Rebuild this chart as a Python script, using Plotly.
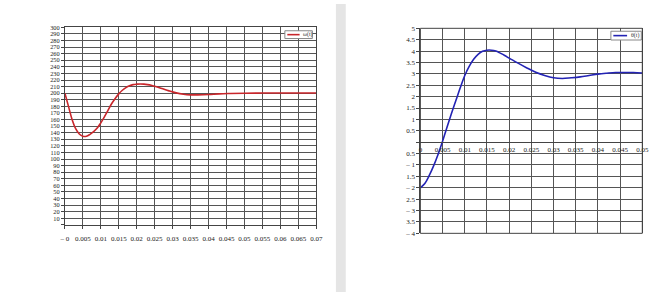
import plotly.graph_objects as go

# ---- data ----
t_omega = [0, 0.001, 0.002, 0.003, 0.004, 0.005, 0.006, 0.007, 0.008, 0.009,
           0.010, 0.011, 0.012, 0.013, 0.014, 0.015, 0.016, 0.017, 0.018, 0.019,
           0.020, 0.021, 0.022, 0.023, 0.024, 0.025, 0.027, 0.029, 0.031, 0.033,
           0.035, 0.037, 0.040, 0.043, 0.046, 0.050, 0.055, 0.060, 0.065, 0.070]
omega = [200, 180, 160, 146, 138, 134.5, 134.5, 137.5, 141.5, 147,
         155, 164, 174, 184, 192, 199, 204.5, 208.5, 211.3, 213,
         213.7, 214, 213.7, 213, 212, 210.5, 207, 203.5, 200.5, 198.5,
         197.5, 197.5, 198, 199, 199.5, 200, 200.2, 200.2, 200.2, 200.2]

t_theta = [0, 0.001, 0.002, 0.003, 0.004, 0.005, 0.006, 0.007, 0.008, 0.009,
           0.010, 0.011, 0.012, 0.013, 0.014, 0.015, 0.016, 0.017, 0.018, 0.019,
           0.020, 0.022, 0.024, 0.026, 0.028, 0.030, 0.032, 0.034, 0.036, 0.038,
           0.040, 0.042, 0.044, 0.046, 0.048, 0.050]
theta = [-2.0, -1.81, -1.46, -1.03, -0.53, 0.04, 0.66, 1.26, 1.83, 2.4,
         2.93, 3.33, 3.64, 3.86, 3.99, 4.04, 4.04, 4.0, 3.91, 3.81,
         3.69, 3.47, 3.26, 3.07, 2.93, 2.83, 2.8, 2.83, 2.87, 2.93,
         2.99, 3.03, 3.06, 3.06, 3.06, 3.04]

x1_ticks = [0, 0.005, 0.01, 0.015, 0.02, 0.025, 0.03, 0.035, 0.04, 0.045, 0.05, 0.055, 0.06, 0.065, 0.07]
x1_labels = ["– 0", "0.005", "0.01", "0.015", "0.02", "0.025", "0.03", "0.035", "0.04", "0.045",
             "0.05", "0.055", "0.06", "0.065", "0.07"]
y1_ticks = list(range(0, 301, 10))
y1_labels = [""] + [str(v) for v in range(10, 301, 10)]

x2_ticks = [0, 0.005, 0.01, 0.015, 0.02, 0.025, 0.03, 0.035, 0.04, 0.045, 0.05]
x2_labels = ["0", "0.005", "0.01", "0.015", "0.02", "0.025", "0.03", "0.035", "0.04", "0.045", "0.05"]
y2_ticks = [5, 4.5, 4, 3.5, 3, 2.5, 2, 1.5, 1, 0.5, 0, -0.5, -1, -1.5, -2, -2.5, -3, -3.5, -4]
y2_labels = ["5", "4.5", "4", "3.5", "3", "2.5", "2", "1.5", "1", "0.5", "",
             "0.5", "– 1", "1.5", "– 2", "2.5", "– 3", "3.5", "– 4"]

legend1 = "ω(t)"
legend2 = "θ(t)"

# ---- layout geometry (pixels) ----
W, H = 666, 296
def px(x):
    return x / W
def py(y):
    return 1 - y / H

L1 = (61, 317, 24, 227)   # left, right, top, bottom
L2 = (423, 649, 25, 235.7)

FAM = "Liberation Serif"
font = dict(family=FAM, size=7, color="#222222")
yfont1 = dict(family=FAM, size=6.3, color="#222222")
grid = "#555555"

fig = go.Figure()
fig.add_trace(go.Scatter(x=t_omega, y=omega, mode="lines", line=dict(color="#c8262b", width=1.6, shape="spline"),
                         xaxis="x", yaxis="y", showlegend=False, name=legend1))
fig.add_trace(go.Scatter(x=t_theta, y=theta, mode="lines", line=dict(color="#2323b4", width=1.6, shape="spline"),
                         xaxis="x2", yaxis="y2", showlegend=False, name=legend2))

zero_pos = py(L2[2] + (L2[3] - L2[2]) * 5 / 9)

fig.update_layout(
    width=W, height=H, margin=dict(l=0, r=0, t=0, b=0),
    paper_bgcolor="white", plot_bgcolor="white",
    xaxis=dict(domain=[px(L1[0]), px(L1[1])], range=[0, 0.07], tickvals=x1_ticks, ticktext=x1_labels,
               showgrid=True, gridcolor=grid, gridwidth=1, zeroline=False,
               showline=True, linecolor="#444", linewidth=1, mirror=True,
               ticks="outside", ticklen=3, tickcolor="#444", tickfont=font, anchor="y",
               ticklabelstandoff=4),
    yaxis=dict(domain=[py(L1[3]), py(L1[2])], range=[0, 300], tickvals=y1_ticks, ticktext=y1_labels,
               showgrid=True, gridcolor=grid, gridwidth=1, zeroline=False,
               showline=True, linecolor="#444", linewidth=1, mirror=True,
               ticks="outside", ticklen=3, tickcolor="#444", tickfont=yfont1, anchor="x"),
    xaxis2=dict(domain=[px(L2[0]), px(L2[1])], range=[0, 0.05], tickvals=x2_ticks, ticktext=x2_labels,
                showgrid=True, gridcolor=grid, gridwidth=1, zeroline=False,
                showline=True, linecolor="#444", linewidth=1,
                ticks="", tickfont=font, anchor="free", position=zero_pos),
    yaxis2=dict(domain=[py(L2[3]), py(L2[2])], range=[-4, 5], tickvals=y2_ticks, ticktext=y2_labels,
                showgrid=True, gridcolor=grid, gridwidth=1, zeroline=False,
                showline=True, linecolor="#444", linewidth=1, mirror=True,
                ticks="outside", ticklen=3, tickcolor="#444", tickfont=font, anchor="x2"),
)

shapes = []
# divider band
shapes.append(dict(type="rect", xref="paper", yref="paper", x0=px(337), x1=px(347), y0=0, y1=1,
                   fillcolor="#e5e5e5", line=dict(width=0), layer="below"))
# right chart frame (top/bottom)
shapes.append(dict(type="rect", xref="paper", yref="paper", x0=px(L2[0]), x1=px(L2[1]),
                   y0=py(L2[3]), y1=py(L2[2]), line=dict(color="#444", width=1)))
# legends
shapes.append(dict(type="rect", xref="paper", yref="paper", x0=px(285), x1=px(313), y0=py(35.5), y1=py(27.5),
                   fillcolor="white", line=dict(color="#888", width=1)))
shapes.append(dict(type="line", xref="paper", yref="paper", x0=px(287.5), x1=px(300), y0=py(31.5), y1=py(31.5),
                   line=dict(color="#c8262b", width=1.6)))
shapes.append(dict(type="rect", xref="paper", yref="paper", x0=px(617), x1=px(648), y0=py(37), y1=py(28),
                   fillcolor="white", line=dict(color="#888", width=1)))
shapes.append(dict(type="line", xref="paper", yref="paper", x0=px(619.5), x1=px(633.5), y0=py(32.5), y1=py(32.5),
                   line=dict(color="#2323b4", width=1.6)))
fig.update_layout(shapes=shapes)

lfont = dict(family=FAM, size=6, color="#333333")
fig.add_annotation(text=legend1, xref="paper", yref="paper", x=px(301), y=py(31.5), xanchor="left",
                   yanchor="middle", showarrow=False, font=lfont)
fig.add_annotation(text=legend2, xref="paper", yref="paper", x=px(635.5), y=py(32.5), xanchor="left",
                   yanchor="middle", showarrow=False, font=lfont)

fig.write_html("out.html")
